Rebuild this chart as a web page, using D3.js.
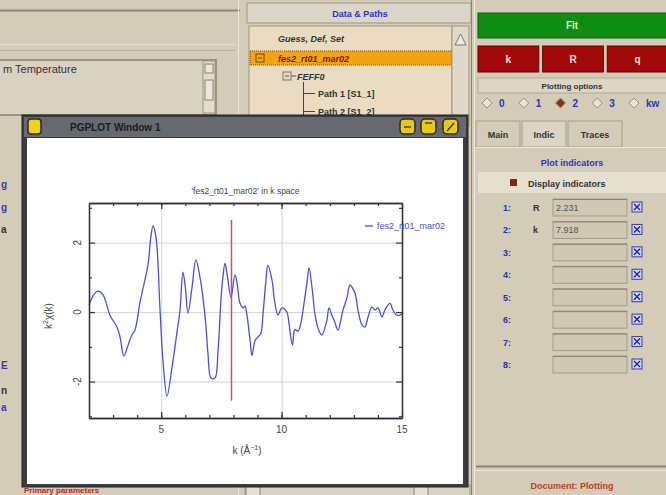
<!DOCTYPE html>
<html>
<head>
<meta charset="utf-8">
<script src="https://cdn.jsdelivr.net/npm/d3@7"></script>
<style>
  html, body { margin:0; padding:0; background:#d4ccb9; overflow:hidden; }
  svg { display:block; }
  text { font-family:"Liberation Sans", Arial, sans-serif; }
</style>
</head>
<body>
<div id="chart"></div>
<script>
// ====== données
const K_VALUES = [2.0, 2.2, 2.37, 2.58, 2.87, 3.16, 3.29, 3.45, 3.6, 3.78, 3.91, 4.12, 4.32, 4.45, 4.57, 4.66, 4.78,
  4.95, 5.07, 5.24, 5.45, 5.65, 5.78, 5.9, 6.0, 6.11, 6.28, 6.44, 6.61, 6.73, 6.86, 6.94, 7.07, 7.23, 7.36,
  7.48, 7.56, 7.65, 7.73, 7.9, 8.06, 8.15, 8.27, 8.4, 8.48, 8.56, 8.69, 8.77, 8.9, 9.02, 9.14, 9.23, 9.35,
  9.43, 9.6, 9.72, 9.85, 10.01, 10.22, 10.3, 10.45, 10.55, 10.68, 10.8, 10.89, 11.05, 11.14, 11.26, 11.38,
  11.51, 11.67, 11.88, 11.97, 12.09, 12.21, 12.34, 12.55, 12.71, 12.84, 12.92, 13.05, 13.17, 13.34, 13.46,
  13.58, 13.75, 13.88, 14.0, 14.17, 14.29, 14.5, 14.62, 14.79, 14.91, 15.0];
const CHI_VALUES = [0.2, 0.5, 0.6, 0.5, -0.09, -0.43, -0.72, -1.27, -1.0, -0.66, -0.52, 0.29, 0.92, 1.35, 2.17, 2.48, 2.17,
  0.06, -1.38, -2.42, -1.58, -0.6, 0.06, 1.15, 0.72, -0.03, 0.72, 1.5, 1.0, 0.43, -0.43, -1.18, -1.9, -1.9, -1.1,
  0.35, 1.0, 1.41, 1.12, 0.43, 1.07, 0.83, 0.26, 0.12, 0.17, -0.09, -0.81, -1.25, -0.81, -0.72, -0.6, -0.03, 0.92,
  1.35, 0.92, 0.26, -0.09, 0.12, 0.0, -0.3, -0.95, -0.5, -0.55, -0.32, 0.06, 0.83, 1.27, 0.72, -0.03,
  -0.46, -0.66, -0.23, 0.12, -0.09, -0.29, -0.52, 0.06, 0.4, 0.78, 0.72, 0.55, 0.06, -0.37, -0.43,
  -0.17, 0.14, 0.06, 0.12, -0.14, 0.06, 0.26, 0.06, -0.09, -0.09, -0.05];
const X_DOMAIN = [2, 15];
const Y_DOMAIN = [-3.05, 3.14];
const X_MAJOR = [5, 10, 15];
const X_MINOR = d3.range(3, 15);
const Y_MAJOR = [-2, 0, 2];
const Y_MINOR = [-3, -1, 1, 3];
const INDICATOR_K = 7.918;
const PLOT_TITLE = "'fes2_rt01_mar02' in k space";
const LEGEND_LABEL = "fes2_rt01_mar02";

const KW_OPTIONS  = ["0", "1", "2", "3", "kw"];
const KW_SELECTED = "2";
const SPACES      = ["k", "R", "q"];
const TABS        = ["Main", "Indic", "Traces"];
const INDIC_NUM   = ["1:", "2:", "3:", "4:", "5:", "6:", "7:", "8:"];
const INDIC_SPACE = ["R", "k", "", "", "", "", "", ""];
const INDIC_VALUE = ["2.231", "7.918", "", "", "", "", "", ""];

// ====== dimensions
const W = 666, H = 495;
const P = {l:89, r:402, t:203, b:418};   // cadre du graphe PGPLOT
const BG = "#d4ccb9";

const svg = d3.select("#chart").append("svg")
  .attr("width", W).attr("height", H)
  .attr("viewBox", [0, 0, W, H]);

svg.append("rect").attr("width", W).attr("height", H).attr("fill", BG);

// ====== helpers
const txt = (g, x, y, s, o = {}) => g.append("text")
  .attr("x", x).attr("y", y).text(s)
  .attr("font-size", o.size || 10)
  .attr("font-weight", o.weight || "bold")
  .attr("font-style", o.style || "normal")
  .attr("fill", o.fill || "#222")
  .attr("text-anchor", o.anchor || "start")
  .attr("font-family", o.family || null);
const box = (g, x, y, w, h, fill, stroke, sw = 1) => g.append("rect")
  .attr("x", x).attr("y", y).attr("width", w).attr("height", h)
  .attr("fill", fill).attr("stroke", stroke || "none").attr("stroke-width", sw);

// ====== panneau gauche (fond)
const left = svg.append("g");
left.append("line").attr("x1", 0).attr("x2", 240).attr("y1", 10.5).attr("y2", 10.5).attr("stroke", "#8d8674").attr("stroke-width", 2);
left.append("line").attr("x1", 0).attr("x2", 235).attr("y1", 44.5).attr("y2", 44.5).attr("stroke", "#e8e2d4");
left.append("line").attr("x1", 0).attr("x2", 235).attr("y1", 50.5).attr("y2", 50.5).attr("stroke", "#b8b09d");
box(left, -2, 60, 218, 55, "#d9d2c1", "#8a836f", 1.5);
txt(left, 3, 73, "m Temperature", {weight:"normal", size:11, family:"'Liberation Mono', 'DejaVu Sans Mono', monospace", fill:"#333"});
box(left, 203, 61, 12, 52, "#e2dccd", "#9a937f");
box(left, 205, 64, 8, 9, "#ece7da", "#8a836f");
box(left, 205, 80, 8, 20, "#ece7da", "#8a836f");
left.append("line").attr("x1", 238.5).attr("x2", 238.5).attr("y1", 0).attr("y2", H).attr("stroke", "#ece6d8");
txt(left, 23, 123, "4", {size:9, fill:"#333"});
// fragments de texte à gauche de la fenêtre
[["g", 188, "#3a3aa8"], ["g", 211, "#3a3aa8"], ["a", 233, "#333"], ["E", 369, "#3a3aa8"],
 ["n", 394, "#333"], ["a", 411, "#3a3aa8"]].forEach(([s, yy, c]) => txt(left, 1, yy, s, {size:10, fill:c}));
txt(left, 24, 493, "Primary parameters", {size:8, fill:"#c02818"});

// ====== panneau central (Data & Paths)
const mid = svg.append("g");
box(mid, 247, 3, 224, 20, "#dcd6c8", "#9c957f");
txt(mid, 360, 17, "Data & Paths", {anchor:"middle", size:9, fill:"#3333c0"});
box(mid, 249, 26, 203, 100, "#e9dcc2", "#9c957f");
txt(mid, 278, 42, "Guess, Def, Set", {size:9, style:"italic", fill:"#333"});
box(mid, 250, 51, 202, 14, "#f2a412", "#7a4a10").attr("stroke-dasharray", "1,1");
box(mid, 256, 54, 8, 8, "#f2a412", "#6a4a20");
mid.append("line").attr("x1", 258).attr("x2", 262).attr("y1", 58).attr("y2", 58).attr("stroke", "#6a4a20");
txt(mid, 278, 62, "fes2_rt01_mar02", {size:9, style:"italic", fill:"#7a1a00"});
box(mid, 283, 72, 8, 8, "#e9dcc2", "#777");
mid.append("line").attr("x1", 285).attr("x2", 289).attr("y1", 76).attr("y2", 76).attr("stroke", "#555");
mid.append("line").attr("x1", 291).attr("x2", 296).attr("y1", 76).attr("y2", 76).attr("stroke", "#555");
txt(mid, 297, 80, "FEFF0", {size:9, style:"italic", fill:"#333"});
mid.append("line").attr("x1", 303.5).attr("x2", 303.5).attr("y1", 82).attr("y2", 120).attr("stroke", "#444");
mid.append("line").attr("x1", 303).attr("x2", 315).attr("y1", 93.5).attr("y2", 93.5).attr("stroke", "#444");
mid.append("line").attr("x1", 303).attr("x2", 315).attr("y1", 111.5).attr("y2", 111.5).attr("stroke", "#444");
txt(mid, 318, 97, "Path 1  [S1_1]", {size:9, fill:"#333"});
txt(mid, 318, 115, "Path 2  [S1_2]", {size:9, fill:"#333"});
box(mid, 452, 26, 17, 100, "#e0d9c9", "#9c957f");
mid.append("path").attr("d", "M455,45 L460.5,34 L466,45 Z").attr("fill", "#eee9dd").attr("stroke", "#777");
// barre de défilement bas
box(mid, 245, 485, 225, 12, "#d9d2c1", "#9c957f");
box(mid, 246, 486, 14, 10, "#e4dfd2", "#8a836f");
box(mid, 414, 486, 14, 10, "#e4dfd2", "#8a836f");

// ====== panneau droit
const right = svg.append("g");
right.append("line").attr("x1", 471.5).attr("x2", 471.5).attr("y1", 0).attr("y2", H).attr("stroke", "#8a836f");
right.append("line").attr("x1", 474.5).attr("x2", 474.5).attr("y1", 0).attr("y2", H).attr("stroke", "#efe9dc");
box(right, 478, 13, 190, 25, "#0f8c12", "#0a5a0a");
txt(right, 572, 29, "Fit", {anchor:"middle", size:10, fill:"#d8f8c8"});
const spaceX = d3.scaleBand().domain(SPACES).range([478, 668]).paddingInner(0.06);
SPACES.forEach(s => {
  box(right, spaceX(s), 46, spaceX.bandwidth(), 26, "#a20a0a", "#5a0404");
  txt(right, spaceX(s) + spaceX.bandwidth() / 2, 63, s, {anchor:"middle", size:10, fill:"#f2dcdc"});
});
box(right, 478, 78, 190, 15, "#ddd6c6", "#b0a893");
txt(right, 572, 89, "Plotting options", {anchor:"middle", size:8, fill:"#333"});
const kwX = d3.scalePoint().domain(KW_OPTIONS).range([487, 634]);
KW_OPTIONS.forEach(o => {
  const cx = kwX(o);
  right.append("path").attr("d", `M${cx - 5},103 L${cx},98 L${cx + 5},103 L${cx},108 Z`)
    .attr("fill", o === KW_SELECTED ? "#8a3010" : "#eae4d6").attr("stroke", "#9a927c");
  txt(right, cx + 12, 107, o, {size:10, fill:"#3232b8"});
});
const tabX = {Main:[476, 44], Indic:[522, 44], Traces:[568, 54]};
TABS.forEach(t => {
  const [tx, tw] = tabX[t];
  box(right, tx, 121, tw, 26, t === "Indic" ? "#dcd5c5" : "#d4ccb9", "#a79f8a");
  txt(right, tx + tw / 2, 138, t, {anchor:"middle", size:9, fill:"#333"});
});
right.append("line").attr("x1", 476).attr("x2", 666).attr("y1", 147.5).attr("y2", 147.5).attr("stroke", "#efe9dc");
txt(right, 572, 166, "Plot indicators", {anchor:"middle", size:9, fill:"#3232c0"});
box(right, 478, 172, 190, 21, "#e6dfd0", "none");
box(right, 510, 179, 7, 7, "#7a2a14", "none");
txt(right, 528, 187, "Display indicators", {size:9, fill:"#333"});
const rowY = d3.scalePoint().domain(INDIC_NUM).range([207, 364]);
INDIC_NUM.forEach((n, i) => {
  const yy = rowY(n);
  txt(right, 503, yy + 4, n, {size:9, fill:"#2e2ea8"});
  txt(right, 533, yy + 4, INDIC_SPACE[i], {size:9, fill:"#333"});
  box(right, 553, yy - 8, 74, 17, "#d0c8b5", "#a39b86");
  right.append("line").attr("x1", 553).attr("x2", 627).attr("y1", yy - 7.5).attr("y2", yy - 7.5).attr("stroke", "#8a836f");
  txt(right, 556, yy + 4, INDIC_VALUE[i], {size:9, weight:"normal", fill:"#555"});
  box(right, 632, yy - 5, 10, 10, "#cfd6f0", "#3a3aa8");
  right.append("path").attr("d", `M${634},${yy - 3} L${640},${yy + 3} M${640},${yy - 3} L${634},${yy + 3}`)
    .attr("stroke", "#2222a0").attr("stroke-width", 1.4);
});
right.append("line").attr("x1", 476).attr("x2", 666).attr("y1", 466.5).attr("y2", 466.5).attr("stroke", "#8a836f").attr("stroke-width", 2);
right.append("line").attr("x1", 476).attr("x2", 666).attr("y1", 470.5).attr("y2", 470.5).attr("stroke", "#efe9dc");
txt(right, 572, 489, "Document: Plotting", {anchor:"middle", size:9, fill:"#c43a24"});

// ====== fenêtre PGPLOT
const win = svg.append("g");
box(win, 22, 115, 446, 372, "#3b3c3f", "#222", 1);
box(win, 24, 117, 442, 20, "#66696f", "none");
box(win, 28, 119, 13, 15, "#f0d21c", "#2a2a2a", 1.5).attr("rx", 3);
txt(win, 70, 131, "PGPLOT Window 1", {size:10, fill:"#1c1c1c"});
[400, 421, 443].forEach((ix, i) => {
  box(win, ix, 119, 15, 15, "#e8c81c", "#2a2a2a", 1.5).attr("rx", 4);
  const sym = i === 0 ? `M${ix + 4},${127} L${ix + 11},${127}` : i === 1 ? `M${ix + 4},${123} L${ix + 11},${123}` : `M${ix + 4},${131} L${ix + 11},${123}`;
  win.append("path").attr("d", sym).attr("stroke", "#2a2a2a").attr("stroke-width", 1.2);
});
box(win, 27, 138, 436, 346, "#ffffff", "none");

// ====== graphe
const x = d3.scaleLinear().domain(X_DOMAIN).range([P.l, P.r]);
const y = d3.scaleLinear().domain(Y_DOMAIN).range([P.b, P.t]);
const plot = svg.append("g");

// grille
plot.append("g").attr("transform", `translate(0,${P.b})`)
  .call(d3.axisBottom(x).tickValues([5, 10]).tickSize(-(P.b - P.t)).tickFormat(""))
  .call(g => g.select(".domain").remove())
  .call(g => g.selectAll("line").attr("stroke", "#d4d4d4"));
plot.append("g").attr("transform", `translate(${P.l},0)`)
  .call(d3.axisLeft(y).tickValues(Y_MAJOR).tickSize(-(P.r - P.l)).tickFormat(""))
  .call(g => g.select(".domain").remove())
  .call(g => g.selectAll("line").attr("stroke", "#d4d4d4"));

// courbe
const line = d3.line().x(d => x(d[0])).y(d => y(d[1])).curve(d3.curveCatmullRom.alpha(0.5));
plot.append("path").datum(d3.zip(K_VALUES, CHI_VALUES))
  .attr("d", line).attr("fill", "none")
  .attr("stroke", "#4d4de0").attr("stroke-width", 1.3);

// indicateur k
plot.append("line")
  .attr("x1", x(INDICATOR_K)).attr("x2", x(INDICATOR_K))
  .attr("y1", y(2.65)).attr("y2", y(-2.55))
  .attr("stroke", "#e0406a").attr("stroke-width", 1.5);

// axes (graduations vers l'intérieur, style PGPLOT)
const styleAxis = g => {
  g.select(".domain").attr("stroke", "#333").attr("stroke-width", 1.3);
  g.selectAll(".tick line").attr("stroke", "#333").attr("stroke-width", 1.2);
  g.selectAll(".tick text").remove();
};
const axes = [
  [d3.axisBottom, `translate(0,${P.b})`, x, X_MAJOR, X_MINOR],
  [d3.axisTop,    `translate(0,${P.t})`, x, X_MAJOR, X_MINOR],
  [d3.axisLeft,   `translate(${P.l},0)`, y, Y_MAJOR, Y_MINOR],
  [d3.axisRight,  `translate(${P.r},0)`, y, Y_MAJOR, Y_MINOR]
];
axes.forEach(([ax, tr, sc, major, minor]) => {
  plot.append("g").attr("transform", tr).call(ax(sc).tickValues(minor).tickSize(-3).tickSizeOuter(0)).call(styleAxis);
  plot.append("g").attr("transform", tr).call(ax(sc).tickValues(major).tickSize(-6).tickSizeOuter(0)).call(styleAxis);
});

// libellés
const labelFont = "'DejaVu Sans', sans-serif";
X_MAJOR.forEach(v => txt(plot, x(v), 433, v, {anchor:"middle", size:10, weight:"normal", fill:"#444", family:labelFont}));
Y_MAJOR.forEach(v => txt(plot, 0, 0, v, {anchor:"middle", size:10, weight:"normal", fill:"#444", family:labelFont})
  .attr("transform", `translate(81,${y(v)}) rotate(-90)`));
txt(plot, (P.l + P.r) / 2, 194, PLOT_TITLE, {anchor:"middle", size:8.5, weight:"normal", fill:"#444", family:labelFont});
const xl = txt(plot, 247, 454, "", {anchor:"middle", size:10, weight:"normal", fill:"#444", family:labelFont});
xl.append("tspan").text("k (Å");
xl.append("tspan").text("−1").attr("dy", -4).attr("font-size", 7);
xl.append("tspan").text(")").attr("dy", 4);
const yl = txt(plot, 0, 0, "", {anchor:"middle", size:10, weight:"normal", fill:"#444", family:labelFont})
  .attr("transform", "translate(52,316) rotate(-90)");
yl.append("tspan").text("k");
yl.append("tspan").text("2").attr("dy", -4).attr("font-size", 7);
yl.append("tspan").text("χ(k)").attr("dy", 4);

// légende (coupée par la fenêtre)
svg.append("clipPath").attr("id", "legclip").append("rect").attr("x", 360).attr("y", 210).attr("width", 89).attr("height", 30);
const leg = plot.append("g").attr("clip-path", "url(#legclip)");
leg.append("line").attr("x1", 365).attr("x2", 373).attr("y1", 226).attr("y2", 226).attr("stroke", "#4d4de0").attr("stroke-width", 1.3);
txt(leg, 377, 229, LEGEND_LABEL, {size:9, weight:"normal", fill:"#4d4de0", family:labelFont});
</script>
</body>
</html>
